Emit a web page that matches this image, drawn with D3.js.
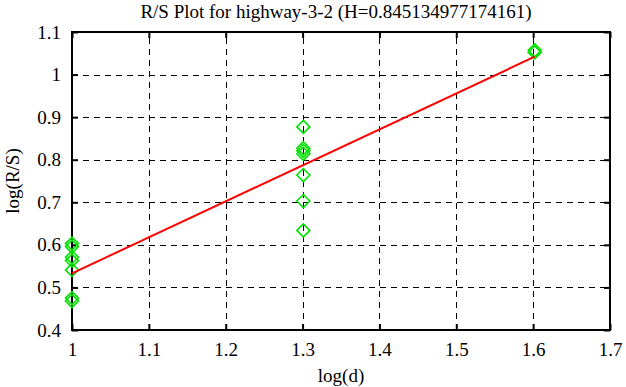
<!DOCTYPE html>
<html>
<head>
<meta charset="utf-8">
<script src="https://cdn.jsdelivr.net/npm/d3@7"></script>
<style>
  html, body { margin: 0; padding: 0; background: #fff; }
  svg { display: block; font-family: "Liberation Serif", "DejaVu Serif", serif; }
</style>
</head>
<body>
<svg id="chart" width="626" height="387"></svg>
<script>
// ---- data ----
const chartTitle = "R/S Plot for highway-3-2 (H=0.845134977174161)";
const xLabel = "log(d)";
const yLabel = "log(R/S)";
const logD = [1, 1, 1, 1, 1, 1, 1,
              1.30103, 1.30103, 1.30103, 1.30103, 1.30103, 1.30103, 1.30103,
              1.60206, 1.60206];
const logRS = [0.603, 0.596, 0.571, 0.563, 0.541, 0.475, 0.468,
               0.877, 0.827, 0.821, 0.814, 0.764, 0.703, 0.634,
               1.057, 1.052];
const fitSlope = 0.845134977174161;
const fitIntercept = -0.312;
const fitRange = [1, 1.60206];
const xTicks = [1, 1.1, 1.2, 1.3, 1.4, 1.5, 1.6, 1.7];
const yTicks = [0.4, 0.5, 0.6, 0.7, 0.8, 0.9, 1, 1.1];
const xDomain = [1, 1.7];
const yDomain = [0.4, 1.1];

// ---- layout ----
const L = 72, R = 610, T = 32, B = 330;
const FS = 19;
const svg = d3.select("#chart");
const x = d3.scaleLinear().domain(xDomain).range([L, R]);
const y = d3.scaleLinear().domain(yDomain).range([B, T]);
const fmt = d => d3.format("")(+d.toFixed(2));

// grid
const grid = svg.append("g").attr("stroke", "#000").attr("stroke-width", 1)
  .attr("stroke-dasharray", "6,5").attr("shape-rendering", "crispEdges");
grid.selectAll("line.vx").data(xTicks.slice(1, -1)).join("line")
  .attr("x1", d => Math.round(x(d)) + 0.5).attr("x2", d => Math.round(x(d)) + 0.5)
  .attr("y1", B).attr("y2", T);
grid.selectAll("line.hy").data(yTicks.slice(1, -1)).join("line")
  .attr("y1", d => Math.round(y(d)) + 0.5).attr("y2", d => Math.round(y(d)) + 0.5)
  .attr("x1", L).attr("x2", R);

// axes (ticks inward, mirrored)
const tickLen = 6;
const axB = svg.append("g").attr("transform", `translate(0,${B})`)
  .call(d3.axisBottom(x).tickValues(xTicks).tickSize(-tickLen).tickPadding(tickLen + 7).tickFormat(fmt));
const axT = svg.append("g").attr("transform", `translate(0,${T})`)
  .call(d3.axisTop(x).tickValues(xTicks).tickSize(-tickLen).tickFormat(""));
const axL = svg.append("g").attr("transform", `translate(${L},0)`)
  .call(d3.axisLeft(y).tickValues(yTicks).tickSize(-tickLen).tickPadding(tickLen + 5).tickFormat(fmt));
const axR = svg.append("g").attr("transform", `translate(${R},0)`)
  .call(d3.axisRight(y).tickValues(yTicks).tickSize(-tickLen).tickFormat(""));
[axB, axT, axL, axR].forEach(a => {
  a.select(".domain").remove();
  a.selectAll(".tick line").attr("stroke", "#000").attr("stroke-width", 2);
  a.selectAll("text").attr("font-family", "Liberation Serif").attr("font-size", FS).attr("fill", "#000");
});

// border
svg.append("rect").attr("x", L).attr("y", T).attr("width", R - L).attr("height", B - T)
  .attr("fill", "none").attr("stroke", "#000").attr("stroke-width", 2);

// points (diamonds)
const pts = logD.map((d, i) => [d, logRS[i]]);
const h = 6.5;
svg.append("g").selectAll("path").data(pts).join("path")
  .attr("d", d => {
    const cx = x(d[0]), cy = y(d[1]);
    return `M${cx},${cy - h}L${cx + h},${cy}L${cx},${cy + h}L${cx - h},${cy}Z`;
  })
  .attr("fill", "none").attr("stroke", "#00e000").attr("stroke-width", 1.6);

// fit line
svg.append("line")
  .attr("x1", x(fitRange[0])).attr("y1", y(fitSlope * fitRange[0] + fitIntercept))
  .attr("x2", x(fitRange[1])).attr("y2", y(fitSlope * fitRange[1] + fitIntercept))
  .attr("stroke", "#ff0000").attr("stroke-width", 2);

// title & labels
svg.append("text").attr("x", 336).attr("y", 18).attr("text-anchor", "middle")
  .attr("font-size", FS).attr("fill", "#000").text(chartTitle);
svg.append("text").attr("x", (L + R) / 2).attr("y", 382).attr("text-anchor", "middle")
  .attr("font-size", FS).attr("fill", "#000").text(xLabel);
svg.append("text").attr("transform", `translate(19,${(T + B) / 2}) rotate(-90)`)
  .attr("text-anchor", "middle").attr("font-size", FS).attr("fill", "#000").text(yLabel);
</script>
</body>
</html>
